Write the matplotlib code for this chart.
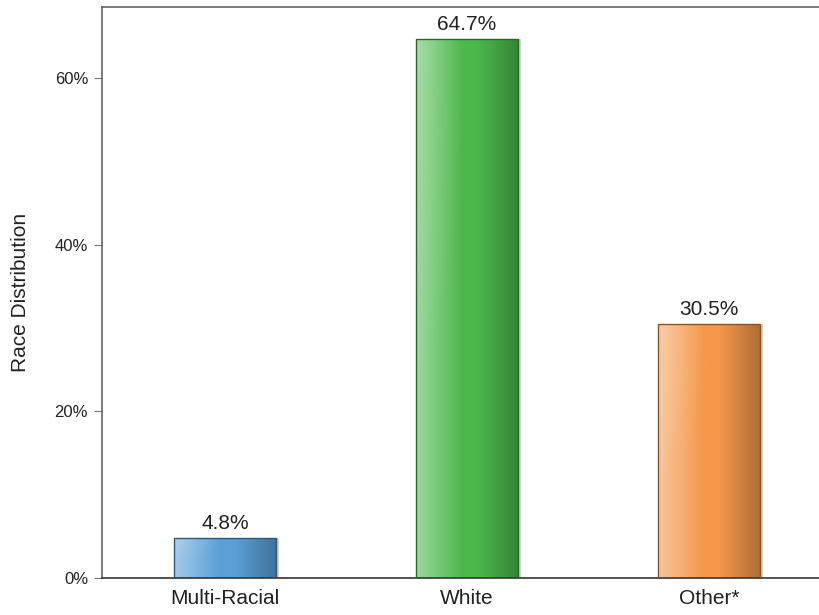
import numpy as np
import matplotlib.pyplot as plt
from matplotlib.patches import Rectangle
from matplotlib.colors import to_rgb
from matplotlib.ticker import FuncFormatter

plt.rcParams['font.family'] = ['Liberation Sans', 'DejaVu Sans']

categories = ['Multi-Racial', 'White', 'Other*']
shares = [4.8, 64.7, 30.5]
base_colors = ['#5a9fd6', '#4cb84c', '#f4984a']
y_ticks = [0, 20, 40, 60]


def bar_gradient(color, nx=200, ny=60):
    # light on the left, base colour in the middle, darker on the right
    c = np.array(to_rgb(color))
    light = c + (1 - c) * 0.45
    dark = c * 0.72
    t = np.linspace(0, 1, nx)
    img = np.zeros((ny, nx, 3))
    for k in range(3):
        row = np.interp(t, [0, 0.45, 0.6, 1], [light[k], c[k], c[k], dark[k]])
        img[:, :, k] = row
    # soft highlight towards the upper left
    yy = np.linspace(0, 1, ny)[:, None]
    glow = np.clip(1 - np.sqrt((t[None, :] / 0.5) ** 2 + (yy / 0.6) ** 2), 0, 1) * 0.12
    img = img + (1 - img) * glow[:, :, None]
    return np.clip(img, 0, 1)


fig = plt.figure(figsize=(8.19, 6.15), dpi=100)
ax = fig.add_axes([0.1245, 0.0602, 0.889, 0.9285])

x = np.arange(len(categories))
width = 0.42
for xi, val, col in zip(x, shares, base_colors):
    left = xi - width / 2
    # faint drop shadow on the right
    ax.add_patch(Rectangle((left + 0.012, 0), width, val, facecolor='#000000',
                           alpha=0.18, edgecolor='none', zorder=1))
    rect = Rectangle((left, 0), width, val, facecolor='none',
                     edgecolor=np.array(to_rgb(col)) * 0.55, linewidth=1.0, zorder=3)
    ax.add_patch(rect)
    im = ax.imshow(bar_gradient(col), extent=(left, left + width, 0, val),
                   aspect='auto', origin='upper', zorder=2, interpolation='bilinear')
    im.set_clip_path(rect)
    ax.text(xi, val + 0.6, f'{val:.1f}%', ha='center', va='bottom',
            fontsize=15, color='#222222')

ax.set_xlim(-0.508, 2.5)
ax.set_ylim(0, 68.5)
ax.set_xticks(x)
ax.set_xticklabels(categories, fontsize=15, color='#222222')
ax.set_yticks(y_ticks)
ax.yaxis.set_major_formatter(FuncFormatter(lambda v, p: f'{v:.0f}%'))
ax.tick_params(axis='y', labelsize=12, length=6, color='#777777', labelcolor='#222222', pad=4)
ax.tick_params(axis='x', length=0, pad=8)
ax.set_ylabel('Race Distribution', fontsize=15, color='#222222', labelpad=18)

for side in ['left', 'top', 'right']:
    ax.spines[side].set_color('#666666')
    ax.spines[side].set_linewidth(1.2)
ax.spines['bottom'].set_color('#333333')
ax.spines['bottom'].set_linewidth(1.2)

fig.savefig('out.png', dpi=100)
